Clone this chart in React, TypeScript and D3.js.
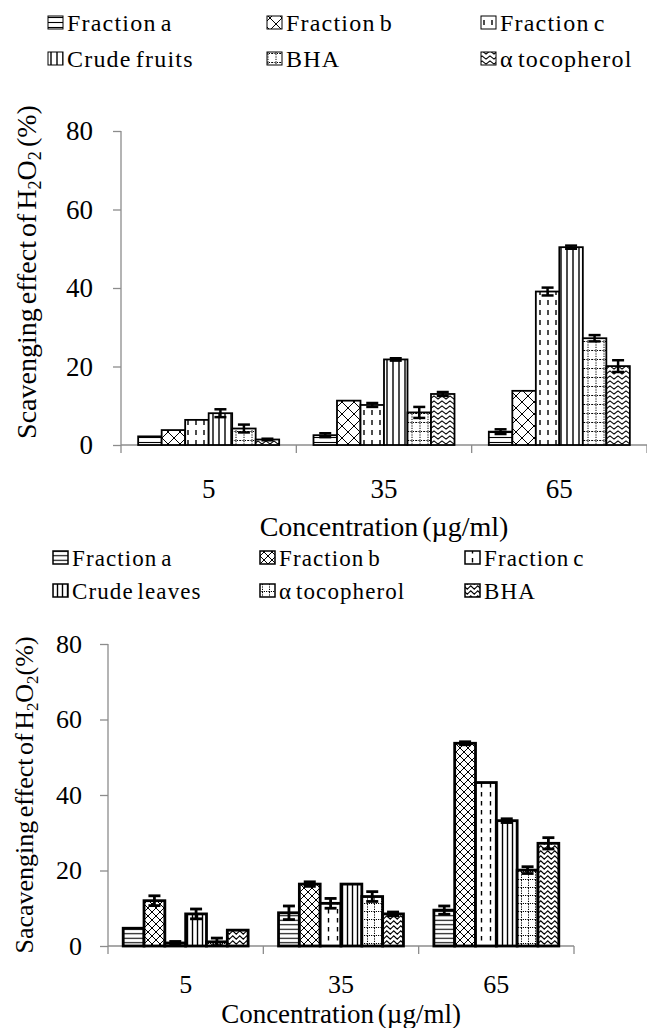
import React, { useEffect, useRef } from 'react';
import * as d3 from 'd3';

// concentrations on the x axis
const concentrations = ['5', '35', '65'];
const yTicks = [0, 20, 40, 60, 80];

// top chart: fruits
const fruitSeries = ['Fraction a', 'Fraction b', 'Fraction c', 'Crude fruits', 'BHA', 'α tocopherol'];
const fruitValues = [
  [2.2, 2.5, 3.4],
  [3.8, 11.3, 13.8],
  [6.4, 10.2, 39.1],
  [8.1, 21.8, 50.4],
  [4.2, 8.3, 27.2],
  [1.4, 13.0, 20.1],
];
const fruitErrors = [
  [0, 0.5, 0.6],
  [0, 0, 0],
  [0, 0.5, 1.0],
  [1.0, 0.3, 0.4],
  [1.0, 1.4, 0.8],
  [0.2, 0.5, 1.5],
];

// bottom chart: leaves
const leafSeries = ['Fraction a', 'Fraction b', 'Fraction c', 'Crude leaves', 'α tocopherol', 'BHA'];
const leafValues = [
  [4.7, 8.8, 9.5],
  [12.0, 16.4, 53.7],
  [0.8, 11.3, 43.3],
  [8.5, 16.4, 33.2],
  [1.1, 13.1, 20.1],
  [4.2, 8.5, 27.2],
];
const leafErrors = [
  [0, 1.8, 1.1],
  [1.3, 0.6, 0.4],
  [0.4, 1.3, 0],
  [1.3, 0, 0.5],
  [1.0, 1.3, 0.9],
  [0, 0.5, 1.5],
];

const patternKinds = ['hlines', 'cross', 'vdash', 'vlines', 'dotgrid', 'wave'];
const FONT = '"Liberation Serif", "Times New Roman", serif';

function addPatterns(defs, prefix, s) {
  patternKinds.forEach((kind) => {
    let w = 6, h = 6;
    if (kind === 'hlines') { w = 6; h = s.hline; }
    if (kind === 'cross') { w = s.cross; h = s.cross; }
    if (kind === 'vdash') { w = s.dashW; h = s.dashH; }
    if (kind === 'vlines') { w = s.vline; h = 6; }
    if (kind === 'dotgrid') { w = s.gridW; h = s.gridH; }
    if (kind === 'wave') { w = s.waveW; h = s.waveH; }
    const p = defs.append('pattern')
      .attr('id', `${prefix}-${kind}`)
      .attr('patternUnits', 'userSpaceOnUse')
      .attr('width', w)
      .attr('height', h);
    p.append('rect').attr('width', w).attr('height', h).attr('fill', 'white');
    const g = p.append('g').attr('stroke', 'black').attr('fill', 'none');
    if (kind === 'hlines') {
      g.append('line').attr('x1', 0).attr('x2', w).attr('y1', h / 2).attr('y2', h / 2).attr('stroke-width', 1.1);
    } else if (kind === 'cross') {
      g.append('path').attr('d', `M0,0L${w},${h}M${w},0L0,${h}`).attr('stroke-width', 1);
    } else if (kind === 'vdash') {
      g.append('line').attr('x1', w / 2).attr('x2', w / 2).attr('y1', 0).attr('y2', h * 0.5).attr('stroke-width', 1.4);
    } else if (kind === 'vlines') {
      g.append('line').attr('x1', w / 2).attr('x2', w / 2).attr('y1', 0).attr('y2', h).attr('stroke-width', 1.4);
    } else if (kind === 'dotgrid') {
      g.append('line').attr('x1', w / 2).attr('x2', w / 2).attr('y1', 0).attr('y2', h)
        .attr('stroke-width', 1).attr('stroke-dasharray', '1.2,1.2');
      g.append('line').attr('x1', 0).attr('x2', w).attr('y1', h - 0.5).attr('y2', h - 0.5)
        .attr('stroke-width', 1).attr('stroke-dasharray', '1.2,1.2');
    } else if (kind === 'wave') {
      const m = h / 2;
      g.append('path')
        .attr('d', `M0,${m}L${w / 4},${m - 1.6}L${(3 * w) / 4},${m + 1.6}L${w},${m}`)
        .attr('stroke-width', 1.2);
    }
  });
}

function drawChart(svg, cfg) {
  const { prefix, series, values, errors } = cfg;
  const defs = svg.append('defs');
  addPatterns(defs, prefix, cfg.pat);

  const x = d3.scaleBand().domain(concentrations).range([cfg.left, cfg.right]).padding(0);
  const inner = d3.scaleBand().domain(series.map((_, i) => i)).range([0, x.bandwidth()])
    .paddingInner(0).paddingOuter(0.73);
  const y = d3.scaleLinear().domain([0, 80]).range([cfg.y0, cfg.y80]);

  const root = svg.append('g').style('font-family', FONT);

  // legend
  const leg = root.append('g');
  series.forEach((name, i) => {
    const col = i % 3;
    const row = Math.floor(i / 3);
    const lx = cfg.legendX[col];
    const ly = cfg.legendY[row];
    leg.append('rect')
      .attr('x', lx).attr('y', ly - cfg.iconH - 2)
      .attr('width', cfg.iconW).attr('height', cfg.iconH)
      .attr('fill', `url(#${prefix}-${patternKinds[i]})`)
      .attr('stroke', 'black').attr('stroke-width', cfg.iconStroke);
    leg.append('text')
      .attr('x', lx + cfg.iconW + 4).attr('y', ly)
      .attr('font-size', cfg.legendFont)
      .attr('letter-spacing', cfg.legendSpacing)
      .attr('word-spacing', -3)
      .text(name);
  });

  // y axis
  const yAxis = root.append('g')
    .attr('transform', `translate(${cfg.left},0)`)
    .call(d3.axisLeft(y).tickValues(yTicks).tickSize(8).tickPadding(cfg.tickPad));
  yAxis.selectAll('line').attr('stroke', '#8c8c8c').attr('stroke-width', 1.3);
  yAxis.select('.domain').remove();
  yAxis.append('line')
    .attr('x1', 0).attr('x2', 0).attr('y1', y(80)).attr('y2', y(0) + 8)
    .attr('stroke', '#8c8c8c').attr('stroke-width', 1.3);
  yAxis.selectAll('text')
    .attr('font-size', cfg.tickFont).attr('fill', 'black').style('font-family', FONT);

  // x axis line and category boundary ticks
  const xg = root.append('g');
  xg.append('line')
    .attr('x1', cfg.left).attr('x2', cfg.right).attr('y1', y(0)).attr('y2', y(0))
    .attr('stroke', '#8c8c8c').attr('stroke-width', 1.5);
  xg.selectAll('.bound')
    .data(concentrations.slice(1).map((c) => x(c)).concat([cfg.right]))
    .join('line')
    .attr('x1', (d) => d).attr('x2', (d) => d)
    .attr('y1', y(0)).attr('y2', y(0) + 8)
    .attr('stroke', '#8c8c8c').attr('stroke-width', 1.3);

  const xAxis = root.append('g')
    .attr('transform', `translate(0,${y(0)})`)
    .call(d3.axisBottom(x).tickSize(0).tickPadding(cfg.xTickPad));
  xAxis.select('.domain').remove();
  xAxis.selectAll('text')
    .attr('font-size', cfg.tickFont).attr('fill', 'black').style('font-family', FONT);

  // bars
  const bars = root.append('g');
  series.forEach((_, i) => {
    concentrations.forEach((c, j) => {
      const v = values[i][j];
      const bx = x(c) + inner(i);
      bars.append('rect')
        .attr('x', bx).attr('y', y(v))
        .attr('width', inner.bandwidth()).attr('height', y(0) - y(v))
        .attr('fill', `url(#${prefix}-${patternKinds[i]})`)
        .attr('stroke', 'black').attr('stroke-width', cfg.barStroke);
    });
  });

  // error bars
  const errs = root.append('g').attr('stroke', 'black').attr('stroke-width', cfg.errStroke);
  series.forEach((_, i) => {
    concentrations.forEach((c, j) => {
      const e = errors[i][j];
      if (!e) return;
      const v = values[i][j];
      const cx = x(c) + inner(i) + inner.bandwidth() / 2;
      const cw = cfg.capW / 2;
      errs.append('line').attr('x1', cx).attr('x2', cx).attr('y1', y(v - e)).attr('y2', y(v + e));
      errs.append('line').attr('x1', cx - cw).attr('x2', cx + cw).attr('y1', y(v - e)).attr('y2', y(v - e));
      errs.append('line').attr('x1', cx - cw).attr('x2', cx + cw).attr('y1', y(v + e)).attr('y2', y(v + e));
    });
  });

  // axis titles
  root.append('text')
    .attr('x', (cfg.left + cfg.right) / 2).attr('y', cfg.xTitleY)
    .attr('text-anchor', 'middle').attr('font-size', cfg.titleFont)
    .attr('word-spacing', -3)
    .text('Concentration (µg/ml)');

  const yl = root.append('text')
    .attr('transform', `translate(${cfg.yTitleX},${cfg.yTitleY}) rotate(-90)`)
    .attr('text-anchor', 'middle').attr('font-size', cfg.yTitleFont)
    .attr('word-spacing', -3);
  yl.append('tspan').text(cfg.yTitle[0]);
  yl.append('tspan').attr('font-size', cfg.yTitleFont * 0.65).attr('dy', 5).text('2');
  yl.append('tspan').attr('dy', -5).text('O');
  yl.append('tspan').attr('font-size', cfg.yTitleFont * 0.65).attr('dy', 5).text('2');
  yl.append('tspan').attr('dy', -5).text(cfg.yTitle[1]);
}

const App = () => {
  const svgRef = useRef(null);

  useEffect(() => {
    const svg = d3.select(svgRef.current);
    svg.selectAll('*').remove();

    drawChart(svg, {
      prefix: 'fr',
      series: fruitSeries,
      values: fruitValues,
      errors: fruitErrors,
      left: 121, right: 647, y0: 445, y80: 131,
      legendX: [48, 267, 481], legendY: [31, 67],
      iconW: 15, iconH: 13, iconStroke: 1,
      legendFont: 24, legendSpacing: 1.2,
      tickFont: 27, tickPad: 20, xTickPad: 34,
      titleFont: 28, yTitleFont: 28, xTitleY: 536,
      yTitleX: 36, yTitleY: 272,
      yTitle: ['Scavenging effect of H', ' (%)'],
      barStroke: 1.8, errStroke: 2.5, capW: 12,
      pat: { hline: 5, cross: 12, dashW: 8, dashH: 10, vline: 6, gridW: 8, gridH: 9, waveW: 8, waveH: 5 },
    });

    drawChart(svg, {
      prefix: 'lv',
      series: leafSeries,
      values: leafValues,
      errors: leafErrors,
      left: 108, right: 574, y0: 946, y80: 644,
      legendX: [53, 260, 465], legendY: [566, 599],
      iconW: 15, iconH: 13, iconStroke: 1.5,
      legendFont: 23, legendSpacing: 1.1,
      tickFont: 26, tickPad: 18, xTickPad: 29,
      titleFont: 27, yTitleFont: 26, xTitleY: 1023,
      yTitleX: 33, yTitleY: 795,
      yTitle: ['Sacavenging effect of H', '(%)'],
      barStroke: 2.8, errStroke: 2.8, capW: 12,
      pat: { hline: 4.5, cross: 8, dashW: 9, dashH: 9, vline: 5, gridW: 7, gridH: 8, waveW: 7, waveH: 5 },
    });
  }, []);

  return (
    <svg
      ref={svgRef}
      width={647}
      height={1028}
      style={{ position: 'absolute', left: 0, top: 0, background: 'white' }}
    />
  );
};

export default App;
